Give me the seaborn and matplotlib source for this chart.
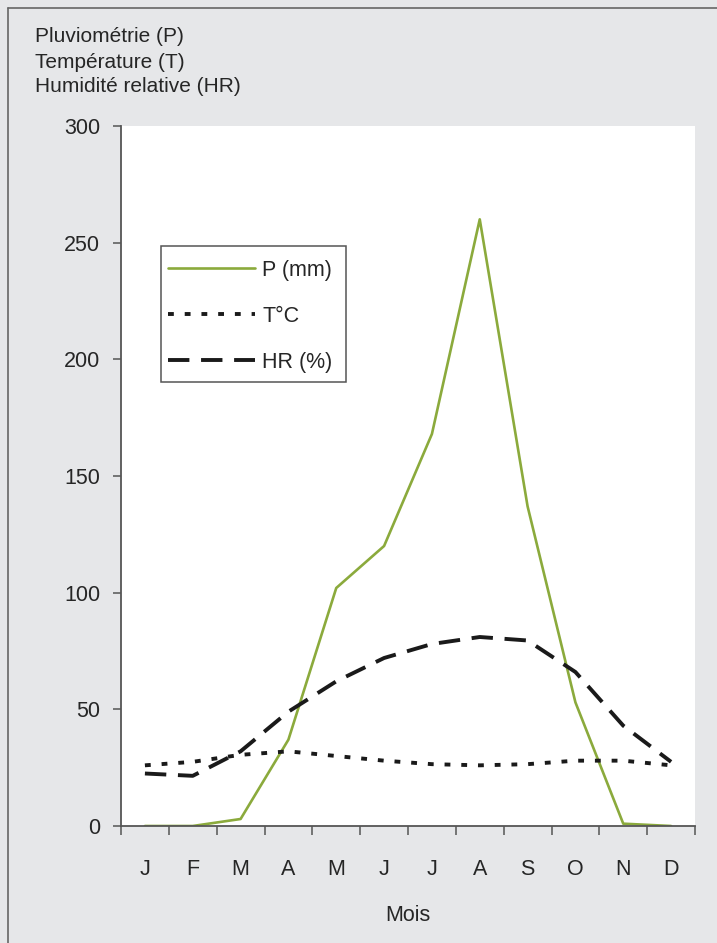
import matplotlib
matplotlib.use("Agg")
import matplotlib.pyplot as plt
import seaborn as sns
import pandas as pd
from matplotlib.lines import Line2D
from matplotlib.patches import Rectangle

months = ["J", "F", "M", "A", "M", "J", "J", "A", "S", "O", "N", "D"]
pluie = [0, 0, 3, 37, 102, 120, 168, 260, 137, 53, 1, 0]
temp = [26, 27.5, 30.5, 32, 30, 28, 26.5, 26, 26.5, 28, 28, 26]
humid = [22.5, 21.5, 32, 49, 62, 72, 78, 81, 79.5, 66, 43, 27.5]
y_ticks = [0, 50, 100, 150, 200, 250, 300]
title_lines = ["Pluviométrie (P)", "Température (T)", "Humidité relative (HR)"]
labels = ["P (mm)", "T°C", "HR (%)"]

sns.set_style("white")
plt.rcParams['font.family'] = ['Liberation Sans', 'DejaVu Sans']

bg = "#e6e7e9"
green = "#8BAA3C"
dark = "#1a1a1a"
spine = "#555555"
fs = 15.5
dot_style = (0, (1.5, 2.8))
dash_style = (0, (5.5, 3.0))
lw_dark = 2.8

df = pd.DataFrame({"x": list(range(12)), "P": pluie, "T": temp, "HR": humid})

fig = plt.figure(figsize=(7.17, 9.43), dpi=100, facecolor=bg)
ax = fig.add_axes([121/717, 1-826/943, (695-121)/717, (826-126)/943])
ax.set_facecolor("white")

sns.lineplot(data=df, x="x", y="P", ax=ax, color=green, linewidth=1.9)
sns.lineplot(data=df, x="x", y="T", ax=ax, color=dark, linewidth=lw_dark,
             linestyle=dot_style)
sns.lineplot(data=df, x="x", y="HR", ax=ax, color=dark, linewidth=lw_dark,
             linestyle=dash_style)

ax.set_xlim(-0.5, 11.5)
ax.set_ylim(0, 300)
ax.set_yticks(y_ticks)
ax.set_yticklabels([str(v) for v in y_ticks], fontsize=fs)
ax.set_xticks([i - 0.5 for i in range(13)])
ax.set_xticklabels([])
ax.set_xticks(list(range(12)), minor=True)
ax.set_xticklabels(months, minor=True, fontsize=fs)
ax.tick_params(axis="x", which="major", direction="out", length=6.5, width=1.1,
               color=spine, bottom=True)
ax.tick_params(axis="x", which="minor", length=0, pad=24)
ax.tick_params(axis="y", direction="out", length=6, width=1.1, color=spine,
               left=True, pad=9)
for s in ["top", "right"]:
    ax.spines[s].set_visible(False)
for s in ["left", "bottom"]:
    ax.spines[s].set_color(spine)
    ax.spines[s].set_linewidth(1.3)
ax.set_xlabel("Mois", fontsize=fs, labelpad=18)
ax.set_ylabel("")

# legend frame
frame = Rectangle((161/717, 1-382/943), (346-161)/717, (382-246)/943,
                  transform=fig.transFigure, facecolor="white",
                  edgecolor="#555555", linewidth=1.1, zorder=4)
fig.add_artist(frame)

handles = [
    Line2D([], [], color=green, linewidth=1.9),
    Line2D([], [], color=dark, linewidth=lw_dark, linestyle=dot_style),
    Line2D([], [], color=dark, linewidth=lw_dark, linestyle=dash_style),
]
leg = fig.legend(handles, labels, loc="upper left",
                 bbox_to_anchor=(159.4/717, 1-251/943), bbox_transform=fig.transFigure,
                 fontsize=fs, handlelength=4.05, handletextpad=0.33,
                 labelspacing=1.17, borderpad=0.4, borderaxespad=0,
                 frameon=False)
leg.set_zorder(5)

for i, t in enumerate(title_lines):
    fig.text(35/717, 1-(37+25*i)/943, t, fontsize=15, va="center", ha="left")

# border left/top
fig.add_artist(Line2D([8/717, 8/717], [0, 1-8/943], transform=fig.transFigure,
                      color="#666666", linewidth=1.2))
fig.add_artist(Line2D([8/717, 1], [1-8/943, 1-8/943], transform=fig.transFigure,
                      color="#666666", linewidth=1.2))

fig.savefig("out.png", dpi=100, facecolor=bg)
